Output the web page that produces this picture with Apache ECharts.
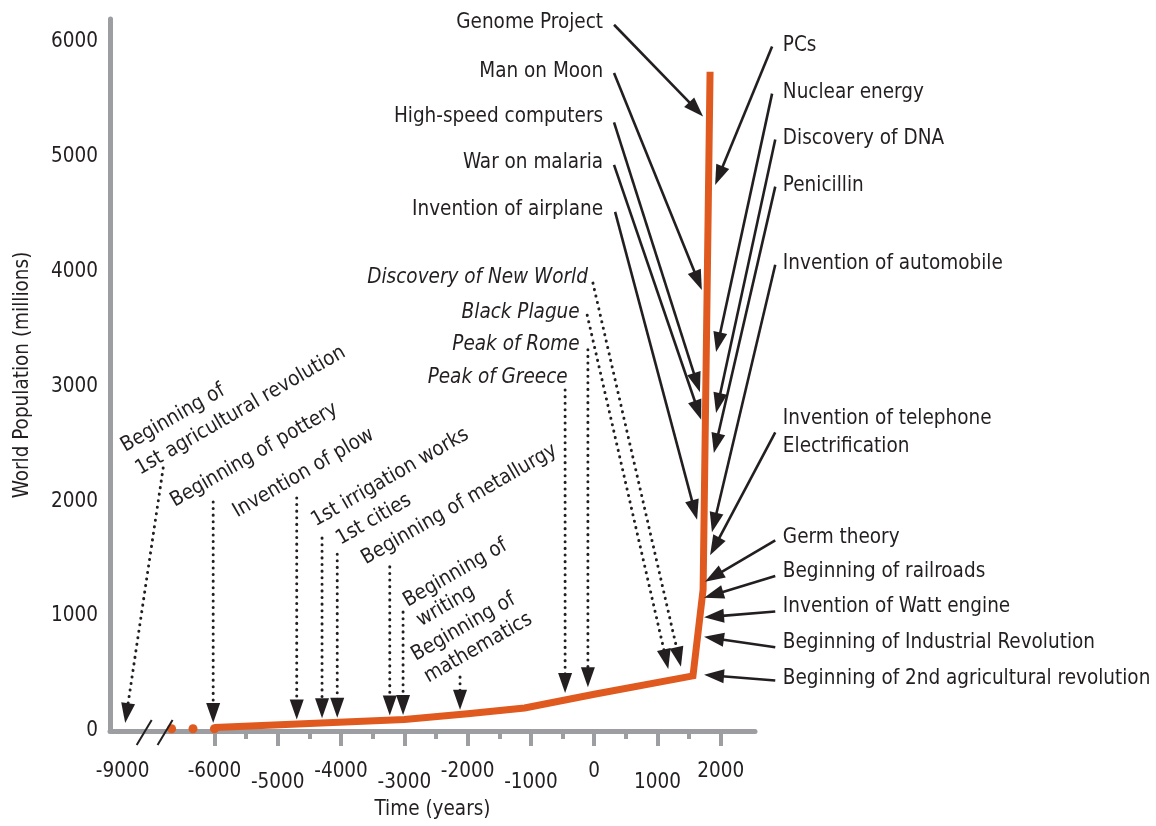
<!DOCTYPE html>
<html>
<head>
<meta charset="utf-8">
<title>World population and milestones</title>
<script src="https://cdn.jsdelivr.net/npm/echarts@6/dist/echarts.min.js"></script>
<style>
  html, body { margin: 0; padding: 0; background: #fff; }
  #main { width: 1156px; height: 826px; }
</style>
</head>
<body>
<div id="main"></div>
<script>
// the time axis is broken: years before -6000 are squeezed so that -9000 sits at axis value -7450
var BREAK_YEAR = -6000;
var BREAK_SCALE = 1450 / 3000;
function yearToAxis(year) {
  return year >= BREAK_YEAR ? year : BREAK_YEAR + (year - BREAK_YEAR) * BREAK_SCALE;
}
function axisToYear(v) {
  return v >= BREAK_YEAR ? v : Math.round(BREAK_YEAR + (v - BREAK_YEAR) / BREAK_SCALE);
}

// world population curve, millions
var years = [-6000, -3000, -2000, -1100, 0, 1560, 1720, 1830];
var population = [30, 100, 150, 200, 320, 480, 1230, 5740];
// loose dots before the curve starts
var earlyYears = [-7400, -6700, -6000];
var earlyPopulation = [20, 20, 20];

// axis ticks
var xLabelYears = [-9000, -6000, -5000, -4000, -3000, -2000, -1000, 0, 1000, 2000];
var xTickYears = [-6000, -5000, -4000, -3000, -2000, -1000, 0, 1000, 2000];
var xMinorYears = [-5500, -4500, -3500, -2500, -1500, -500, 500, 1500];
var loweredLabels = [-5000, -3000, -1000, 1000];
var yLabels = [0, 1000, 2000, 3000, 4000, 5000, 6000];
var breakMarks = [-7110, -6780];

// event labels (x in axis units, y in millions)
var rightEvents = ['PCs', 'Nuclear energy', 'Discovery of DNA', 'Penicillin', 'Invention of automobile',
  'Invention of telephone', 'Electrification', 'Germ theory', 'Beginning of railroads',
  'Invention of Watt engine', 'Beginning of Industrial Revolution', 'Beginning of 2nd agricultural revolution'];
var rightEventY = [5970, 5560, 5160, 4750, 4070, 2720, 2480, 1680, 1390, 1080, 770, 460];
var rightEventX = 2980;

var leftEvents = ['Genome Project', 'Man on Moon', 'High-speed computers', 'War on malaria', 'Invention of airplane'];
var leftEventY = [6170, 5740, 5350, 4950, 4540];
var leftEventX = 140;

var ancientEvents = ['Discovery of New World', 'Black Plague', 'Peak of Rome', 'Peak of Greece'];
var ancientEventX = [-100, -230, -230, -420];
var ancientEventY = [3945, 3640, 3360, 3080];

var earlyEvents = ['Beginning of', '1st agricultural revolution', 'Beginning of pottery', 'Invention of plow',
  '1st irrigation works', '1st cities', 'Beginning of metallurgy', 'Beginning of', 'writing',
  'Beginning of', 'mathematics'];
var earlyEventX = [-7450, -7220, -6670, -5680, -4440, -4050, -3650, -2990, -2780, -2860, -2660];
var earlyEventY = [2470, 2270, 1990, 1900, 1820, 1660, 1490, 1120, 950, 650, 460];

// arrows: [fromX, fromY, toX, toY]
var solidArrows = [
  [313, 6150, 1720, 5350],
  [313, 5730, 1700, 3840],
  [313, 5300, 1670, 2950],
  [313, 4930, 1690, 2710],
  [330, 4520, 1625, 1840],
  [2810, 5960, 1910, 4755],
  [2810, 5550, 1925, 3300],
  [2860, 5150, 1925, 2770],
  [2860, 4740, 1890, 2420],
  [2860, 4060, 1860, 1730],
  [2860, 2600, 1830, 1530],
  [2860, 1660, 1750, 1300],
  [2860, 1350, 1735, 1160],
  [2860, 1040, 1735, 990],
  [2860, 730, 1735, 820],
  [2860, 440, 1735, 490]
];
var dottedArrows = [
  [-6810, 2290, -7410, 70],
  [-6020, 1995, -6020, 70],
  [-4700, 2030, -4700, 100],
  [-4300, 1680, -4300, 110],
  [-4060, 1540, -4060, 115],
  [-3230, 1430, -3230, 135],
  [-3020, 1036, -3020, 140],
  [-2120, 470, -2120, 185],
  [-460, 2970, -460, 330],
  [-100, 3320, -100, 380],
  [-110, 3620, 1170, 540],
  [-20, 3900, 1370, 560]
];

var FONT = "'Liberation Sans Narrow', 'Arial Narrow', 'DejaVu Sans Condensed', sans-serif";
var FS = 20.5;
var INK = '#231f20';
var GRAY = '#9c9ea1';
var ORANGE = '#e05a1f';

function textSeries(names, xs, ys, opts) {
  var data = names.map(function (n, i) {
    return [Array.isArray(xs) ? xs[i] : xs, ys[i]];
  });
  return {
    type: 'custom',
    silent: true,
    z: 4,
    data: data,
    renderItem: function (params, api) {
      var p = api.coord([api.value(0), api.value(1)]);
      return {
        type: 'text',
        x: p[0],
        y: p[1],
        rotation: opts.rotation || 0,
        style: {
          text: names[params.dataIndex],
          fill: INK,
          fontSize: FS,
          fontFamily: FONT,
          fontStyle: opts.italic ? 'italic' : 'normal',
          align: opts.align,
          verticalAlign: 'middle'
        }
      };
    }
  };
}

function arrowSeries(list, dotted) {
  return {
    type: 'custom',
    silent: true,
    z: 3,
    data: list,
    renderItem: function (params, api) {
      var a = api.coord([api.value(0), api.value(1)]);
      var b = api.coord([api.value(2), api.value(3)]);
      var dx = b[0] - a[0], dy = b[1] - a[1];
      var len = Math.sqrt(dx * dx + dy * dy);
      var ux = dx / len, uy = dy / len;
      var headLen = 20, headHalf = 7;
      var bx = b[0] - ux * headLen, by = b[1] - uy * headLen;
      return {
        type: 'group',
        children: [{
          type: 'line',
          shape: { x1: a[0], y1: a[1], x2: bx + ux * 2, y2: by + uy * 2 },
          style: dotted
            ? { stroke: INK, lineWidth: 3, lineDash: [0.1, 6.5], lineCap: 'round' }
            : { stroke: INK, lineWidth: 2.6 }
        }, {
          type: 'polygon',
          shape: { points: [[b[0], b[1]], [bx - uy * headHalf, by + ux * headHalf], [bx + uy * headHalf, by - ux * headHalf]] },
          style: { fill: INK }
        }]
      };
    }
  };
}

var chart = echarts.init(document.getElementById('main'));
chart.setOption({
  animation: false,
  backgroundColor: '#fff',
  grid: { left: 110, right: 401, top: 19, bottom: 95, containLabel: false, outerBoundsMode: 'none' },
  xAxis: [{
    type: 'value',
    position: 'bottom',
    min: -7650,
    max: 2540,
    name: 'Time (years)',
    nameLocation: 'middle',
    nameGap: 68,
    nameTextStyle: { fontSize: FS, fontFamily: FONT, color: INK },
    axisLine: { show: true, onZero: false, lineStyle: { color: GRAY, width: 5 } },
    axisTick: {
      show: true, length: 15, customValues: xTickYears.map(yearToAxis),
      lineStyle: { color: GRAY, width: 4 }
    },
    axisLabel: {
      show: true,
      margin: 30,
      customValues: xLabelYears.map(yearToAxis),
      fontSize: FS,
      fontFamily: FONT,
      color: INK,
      formatter: function (v) {
        var y = axisToYear(v);
        return loweredLabels.indexOf(y) >= 0 ? '{lo|' + y + '}' : '{hi|' + y + '}';
      },
      rich: {
        hi: { fontSize: FS, fontFamily: FONT, color: INK },
        lo: { fontSize: FS, fontFamily: FONT, color: INK, padding: [11, 0, 0, 0] }
      }
    },
    splitLine: { show: false }
  }, {
    type: 'value',
    position: 'bottom',
    min: -7650,
    max: 2540,
    axisLine: { show: false, onZero: false },
    axisTick: {
      show: true, length: 8, customValues: xMinorYears,
      lineStyle: { color: GRAY, width: 4 }
    },
    axisLabel: { show: false },
    splitLine: { show: false }
  }],
  yAxis: {
    type: 'value',
    min: 0,
    max: 6200,
    name: 'World Population (millions)',
    nameLocation: 'middle',
    nameGap: 77,
    nameTextStyle: { fontSize: FS, fontFamily: FONT, color: INK },
    axisLine: { show: true, onZero: false, lineStyle: { color: GRAY, width: 5 } },
    axisTick: { show: false },
    axisLabel: {
      fontSize: FS, fontFamily: FONT, color: INK, margin: 12,
      customValues: yLabels,
      formatter: function (v) { return String(v); }
    },
    splitLine: { show: false }
  },
  series: [
    {
      type: 'line',
      z: 2,
      data: years.map(function (y, i) { return [yearToAxis(y), population[i]]; }),
      showSymbol: false,
      lineStyle: { color: ORANGE, width: 7, cap: 'butt', join: 'miter' }
    },
    {
      type: 'scatter',
      z: 2,
      data: earlyYears.map(function (y, i) { return [yearToAxis(y), earlyPopulation[i]]; }),
      symbolSize: 9,
      itemStyle: { color: ORANGE, opacity: 1 }
    },
    {
      type: 'custom',
      silent: true,
      z: 3,
      data: breakMarks.map(function (x) { return [x, 0]; }),
      renderItem: function (params, api) {
        var p = api.coord([api.value(0), api.value(1)]);
        return {
          type: 'line',
          shape: { x1: p[0] - 7.5, y1: p[1] + 14, x2: p[0] + 7.5, y2: p[1] - 11 },
          style: { stroke: INK, lineWidth: 2 }
        };
      }
    },
    arrowSeries(solidArrows, false),
    arrowSeries(dottedArrows, true),
    textSeries(rightEvents, rightEventX, rightEventY, { align: 'left' }),
    textSeries(leftEvents, leftEventX, leftEventY, { align: 'right' }),
    textSeries(ancientEvents, ancientEventX, ancientEventY, { align: 'right', italic: true }),
    textSeries(earlyEvents, earlyEventX, earlyEventY, { align: 'left', rotation: Math.PI / 6 })
  ]
});
</script>
</body>
</html>
